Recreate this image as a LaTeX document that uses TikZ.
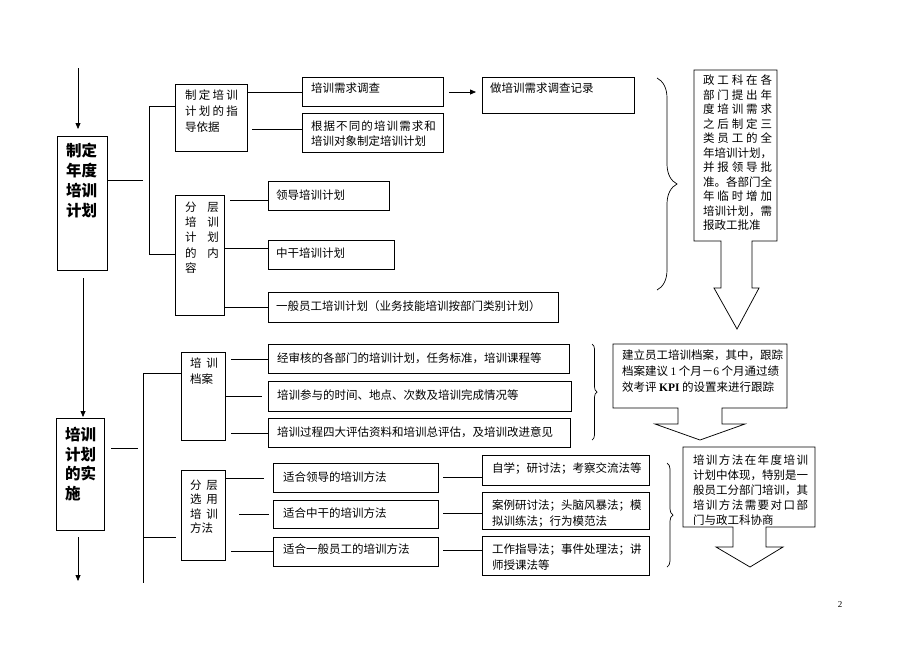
\documentclass[tikz,border=0pt]{standalone}
\usepackage{fontspec}
\setmainfont{Noto Sans CJK SC}
\newfontfamily\latin{Liberation Serif}
\usetikzlibrary{arrows.meta,decorations.pathreplacing}
\newcommand\jj[2]{\makebox[#1pt][s]{\spaceskip=0pt plus 1fil\relax #2}}
\newcommand\bx[5]{\node[box, anchor=north west, minimum width={(#4-#2)*1pt}, minimum height={(#5-#3)*1pt}] (#1) at (#2,#3) {};}
\begin{document}
\begin{tikzpicture}[x=1pt,y=-1pt,
  box/.style={draw, line width=0.75pt, inner sep=0pt, outer sep=0pt},
  txt/.style={inner sep=0pt, outer sep=0pt, anchor=north west, align=left, font=\fontsize{11.5}{14.5}\selectfont},
  big/.style={inner sep=0pt, outer sep=0pt, anchor=north west, align=left, font=\fontsize{15.5}{20}\selectfont\bfseries},
  conn/.style={line width=0.75pt},
  arr/.style={conn, -{Triangle[length=6pt,width=5pt]}},
  brc/.style={line width=0.7pt, decorate, decoration={brace, amplitude=#1}},
  callout/.style={draw, line width=0.75pt, line join=miter}]
\fill[white] (0,0) rectangle (920,651);
\useasboundingbox (0,0) rectangle (920,651);

% ---------- top part ----------
\bx{plan}{57}{136}{107}{270}
\bx{guide}{175}{84}{247}{151}
\bx{need}{302}{77}{443}{106}
\bx{basis}{302}{113}{443}{152}
\bx{record}{482}{77}{634}{113}
\bx{layer}{175}{195}{224}{315}
\bx{lead}{268}{181}{389}{210}
\bx{mid}{268}{240}{394}{269}
\bx{gen}{268}{292}{558}{322}

\node[big] (tplan) at (66,143) {制定\\年度\\培训\\计划};
\node[txt, font=\fontsize{11.5}{16}\selectfont] (tguide) at (185,90) {\jj{53}{制 定 培 训}\\\jj{53}{计 划 的 指}\\导依据};
\node[txt] (tneed) at (311,83) {培训需求调查};
\node[txt] (tbasis) at (311,121) {\jj{125}{根 据 不 同 的 培 训 需 求 和}\\培训对象制定培训计划};
\node[txt] (trecord) at (490,83) {做培训需求调查记录};
\node[txt, font=\fontsize{11.5}{15.2}\selectfont] (tlayer) at (185,202) {\jj{34}{分 层}\\\jj{34}{培 训}\\\jj{34}{计 划}\\\jj{34}{的 内}\\容};
\node[txt] (tlead) at (276,190) {领导培训计划};
\node[txt] (tmid) at (276,248) {中干培训计划};
\node[txt] (tgen) at (276,301) {一般员工培训计划（业务技能培训按部门类别计划）};

\coordinate (in0) at (78,68);
\coordinate (in1) at (78,129);
\draw[arr] (in0) -- (in1);
\draw[conn] (plan.east |- 0,180) -- (143,180);
\draw[conn] (guide.west |- 0,106) -- (149,106) -- (149,254) -- (layer.west |- 0,254);
\draw[conn] (guide.east |- 0,92) -- (need.west |- 0,92);
\draw[conn] (252,129) -- (basis.west |- 0,129);
\coordinate (r0) at (449,92);
\coordinate (r1) at (476,92);
\draw[arr] (r0) -- (r1);
\draw[conn] (230,200) -- (lead.west |- 0,200);
\draw[conn] (layer.east |- 0,248) -- (mid.west |- 0,248);
\draw[conn] (layer.east |- 0,307) -- (gen.west |- 0,307);

\draw[brc=20pt] (657,78) -- (657,290);
\draw[callout] (694,70) -- (777,70) -- (777,241) -- (752,241) -- (752,288) -- (759,288) -- (737,329) -- (714,288) -- (721,288) -- (721,241) -- (694,241) -- cycle;
\node[txt] (tzg) at (703,75) {\jj{69}{政 工 科 在 各}\\\jj{69}{部 门 提 出 年}\\\jj{69}{度 培 训 需 求}\\\jj{69}{之 后 制 定 三}\\\jj{69}{类 员 工 的 全}\\年培训计划，\\\jj{69}{并 报 领 导 批}\\准。各部门全\\\jj{69}{年 临 时 增 加}\\培训计划，需\\报政工批准};

% ---------- bottom part ----------
\bx{impl}{56}{418}{104}{530}
\bx{archive}{181}{352}{225}{440}
\bx{aa}{268}{344}{569}{373}
\bx{ab}{268}{381}{571}{411}
\bx{ac}{268}{418}{570}{447}
\bx{method}{181}{470}{225}{560}
\bx{fl}{273}{463}{438}{492}
\bx{fm}{273}{500}{438}{528}
\bx{fg}{273}{537}{438}{566}
\bx{self}{482}{455}{649}{485}
\bx{case}{482}{492}{649}{529}
\bx{work}{482}{536}{649}{575}

\node[big, font=\fontsize{15.5}{19.7}\selectfont\bfseries] (timpl) at (65,427) {培训\\计划\\的实\\施};
\node[txt, font=\fontsize{11.5}{16}\selectfont] (tarchive) at (190,358) {\jj{28}{培 训}\\档案};
\node[txt] (taa) at (277,353) {经审核的各部门的培训计划，任务标准，培训课程等};
\node[txt] (tab) at (277,390) {培训参与的时间、地点、次数及培训完成情况等};
\node[txt] (tac) at (277,427) {培训过程四大评估资料和培训总评估，及培训改进意见};
\node[txt] (tmethod) at (190,480) {\jj{28}{分 层}\\\jj{28}{选 用}\\\jj{28}{培 训}\\方法};
\node[txt] (tfl) at (283,472) {适合领导的培训方法};
\node[txt] (tfm) at (283,508) {适合中干的培训方法};
\node[txt] (tfg) at (283,544) {适合一般员工的培训方法};
\node[txt] (tself) at (492,463) {自学；研讨法；考察交流法等};
\node[txt, font=\fontsize{11.5}{15.5}\selectfont] (tcase) at (492,500) {案例研讨法；头脑风暴法；模\\拟训练法；行为模范法};
\node[txt, font=\fontsize{11.5}{15.5}\selectfont] (twork) at (492,544) {工作指导法；事件处理法；讲\\师授课法等};

\coordinate (in2) at (83,278);
\coordinate (in3) at (83,417);
\draw[arr] (in2) -- (in3);
\coordinate (out0) at (78,537);
\coordinate (out1) at (78,581);
\draw[arr] (out0) -- (out1);
\draw[conn] (111,448) -- (138,448);
\draw[conn] (archive.west |- 0,373) -- (143,373) -- (143,583);
\draw[conn] (143,537) -- (176,537);
\draw[conn] (231,359) -- (aa.west |- 0,359);
\draw[conn] (archive.east |- 0,396) -- (262,396);
\draw[conn] (231,433) -- (ac.west |- 0,433);
\draw[conn] (method.east |- 0,478) -- (264,478);
\draw[conn] (239,514) -- (269,514);
\draw[conn] (231,551) -- (fg.west |- 0,551);
\draw[conn] (443,477) -- (self.west |- 0,477);
\draw[conn] (443,513) -- (case.west |- 0,513);
\draw[conn] (443,550) -- (work.west |- 0,550);

\draw[brc=5pt] (592,344) -- (592,440);
\draw[brc=6pt] (667,463) -- (667,567);

\draw[callout] (613,344) -- (787,344) -- (787,408) -- (722,408) -- (722,424) -- (745,424) -- (700,440) -- (655,424) -- (678,424) -- (678,408) -- (613,408) -- cycle;
\node[txt, font=\fontsize{11.5}{16}\selectfont] (tbuild) at (622,350) {建立员工培训档案，其中，跟踪\\档案建议 {\latin 1} 个月－{\latin 6} 个月通过绩\\效考评 {\latin\bfseries KPI} 的设置来进行跟踪};

\draw[callout] (683,447) -- (815,447) -- (815,527) -- (766,527) -- (766,547) -- (783,547) -- (750,567) -- (716,547) -- (733,547) -- (733,527) -- (683,527) -- cycle;
\node[txt, font=\fontsize{11.5}{15}\selectfont] (tmeth2) at (693,455) {\jj{115}{培 训 方 法 在 年 度 培 训}\\计划中体现，特别是一\\般员工分部门培训，其\\\jj{115}{培 训 方 法 需 要 对 口 部}\\门与政工科协商};

\node[inner sep=0pt, font=\latin\fontsize{9}{9}\selectfont] (page) at (840,605) {2};
\end{tikzpicture}
\end{document}
